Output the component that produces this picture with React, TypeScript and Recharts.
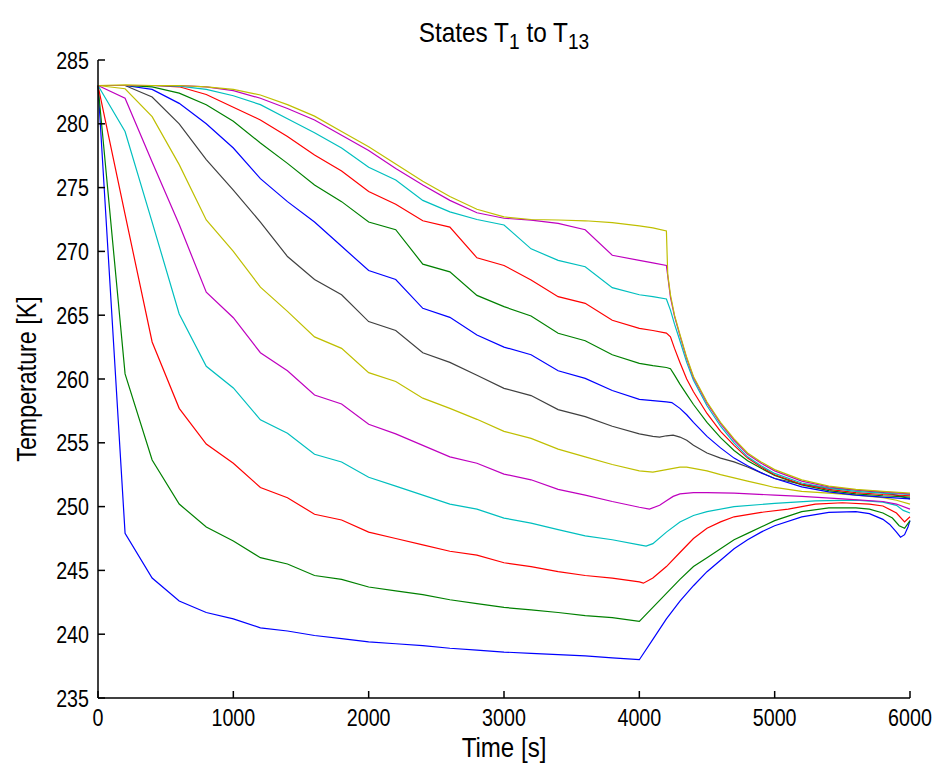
import React from 'react';
import { LineChart, Line, XAxis, YAxis } from 'recharts';

// Sample times (s) for the first phase, shared by every state
const HEAD_TIMES = [0, 200, 400, 600, 800, 1000, 1200, 1400, 1600, 1800, 2000, 2200, 2400, 2600, 2800, 3000, 3200, 3400, 3600, 3800, 4000];

// Temperatures (K) at HEAD_TIMES
const T1_HEAD = [283, 247.9, 244.4, 242.6, 241.7, 241.2, 240.5, 240.25, 239.9, 239.65, 239.4, 239.25, 239.1, 238.9, 238.75, 238.6, 238.5, 238.4, 238.3, 238.15, 238.0];
const T2_HEAD = [283, 260.4, 253.65, 250.2, 248.4, 247.3, 246.0, 245.5, 244.6, 244.3, 243.7, 243.4, 243.1, 242.7, 242.4, 242.1, 241.9, 241.7, 241.45, 241.3, 241.0];
const T3_HEAD = [283, 272.9, 262.9, 257.7, 254.9, 253.4, 251.5, 250.7, 249.4, 248.95, 248.0, 247.5, 247.0, 246.5, 246.2, 245.6, 245.3, 244.9, 244.6, 244.4, 244.1];
const T4_HEAD = [283, 279.4, 272.3, 265.1, 261.0, 259.3, 256.8, 255.75, 254.1, 253.5, 252.3, 251.6, 250.9, 250.2, 249.8, 249.1, 248.7, 248.2, 247.7, 247.4, 247.0];
const T5_HEAD = [283, 282.0, 277.0, 272.1, 266.8, 264.8, 262.06, 260.65, 258.75, 258.04, 256.45, 255.7, 254.8, 253.9, 253.4, 252.55, 252.1, 251.35, 250.9, 250.4, 249.95];
const T6_HEAD = [283, 282.75, 280.56, 276.8, 272.46, 270.0, 267.2, 265.3, 263.3, 262.4, 260.5, 259.8, 258.5, 257.7, 256.84, 255.9, 255.35, 254.5, 253.9, 253.3, 252.8];
const T7_HEAD = [283, 283.0, 282.1, 280.0, 277.2, 274.8, 272.3, 269.6, 267.8, 266.6, 264.5, 263.8, 262.06, 261.3, 260.3, 259.27, 258.7, 257.6, 257.05, 256.3, 255.7];
const T8_HEAD = [283, 283.0, 282.7, 281.6, 280.0, 278.1, 275.7, 273.9, 272.3, 270.4, 268.5, 267.8, 265.54, 264.83, 263.45, 262.5, 261.9, 260.65, 260.05, 259.1, 258.4];
const T9_HEAD = [283, 283.0, 282.9, 282.4, 281.5, 280.2, 278.5, 276.9, 275.2, 273.9, 272.3, 271.7, 269.0, 268.4, 266.55, 265.67, 264.94, 263.58, 263.0, 261.9, 261.23];
const T10_HEAD = [283, 283.0, 283.0, 282.9, 282.3, 281.3, 280.3, 279.0, 277.55, 276.3, 274.7, 273.7, 272.4, 271.9, 269.5, 268.9, 267.76, 266.45, 265.93, 264.6, 263.97];
const T11_HEAD = [283, 283.0, 283.0, 282.95, 282.7, 282.2, 281.5, 280.4, 279.3, 278.1, 276.6, 275.6, 274.0, 273.1, 272.5, 272.07, 270.2, 269.3, 268.8, 267.16, 266.6];
const T12_HEAD = [283, 283.0, 283.0, 283.0, 282.9, 282.6, 282.0, 281.2, 280.3, 279.1, 277.9, 276.5, 275.2, 274.0, 273.03, 272.6, 272.45, 272.2, 271.7, 269.7, 269.3];
const T13_HEAD = [283, 283.05, 283.0, 283.0, 282.9, 282.7, 282.26, 281.5, 280.6, 279.4, 278.2, 276.85, 275.5, 274.3, 273.3, 272.7, 272.5, 272.46, 272.4, 272.25, 272.0];

// Second phase: [time s, temperature K]
const T1_TAIL = [[4100, 239.6], [4200, 241.2], [4300, 242.6], [4400, 243.8], [4500, 244.9], [4600, 245.8], [4700, 246.7], [4800, 247.4], [4900, 248.0], [5000, 248.5], [5200, 249.2], [5400, 249.55], [5600, 249.6], [5700, 249.45], [5800, 249.0], [5850, 248.6], [5900, 248.0], [5930, 247.6], [5960, 247.8], [5985, 248.4], [6000, 248.9]];
const T2_TAIL = [[4100, 242.1], [4200, 243.2], [4300, 244.3], [4400, 245.3], [4500, 246.0], [4600, 246.7], [4700, 247.4], [4800, 247.9], [5000, 248.9], [5200, 249.6], [5400, 249.9], [5600, 249.9], [5700, 249.8], [5800, 249.5], [5870, 249.1], [5920, 248.5], [5960, 248.3], [6000, 248.9]];
const T3_TAIL = [[4030, 244.0], [4100, 244.4], [4200, 245.3], [4300, 246.4], [4400, 247.5], [4500, 248.3], [4600, 248.8], [4700, 249.2], [4900, 249.55], [5100, 249.8], [5300, 250.2], [5500, 250.3], [5700, 250.2], [5800, 250.05], [5900, 249.5], [5960, 248.8], [6000, 249.2]];
const T4_TAIL = [[4050, 246.9], [4100, 247.1], [4200, 248.0], [4300, 248.8], [4400, 249.3], [4500, 249.6], [4700, 250.0], [5000, 250.25], [5300, 250.45], [5600, 250.5], [5800, 250.35], [5900, 250.1], [5950, 249.7], [6000, 249.5]];
const T5_TAIL = [[4075, 249.8], [4150, 250.1], [4200, 250.45], [4250, 250.8], [4300, 251.0], [4400, 251.1], [4500, 251.1], [4700, 251.05], [5000, 250.9], [5200, 250.8], [5500, 250.6], [5800, 250.4], [5900, 250.2], [6000, 249.8]];
const T6_TAIL = [[4100, 252.7], [4200, 252.9], [4300, 253.1], [4350, 253.1], [4400, 253.0], [4500, 252.8], [4600, 252.5], [4700, 252.25], [4800, 252.0], [5000, 251.5], [5200, 251.2], [5400, 251.05], [5600, 250.9], [5800, 250.7], [5900, 250.5], [6000, 250.2]];
const T7_TAIL = [[4100, 255.5], [4150, 255.45], [4200, 255.55], [4250, 255.6], [4300, 255.45], [4350, 255.2], [4400, 254.8], [4500, 254.2], [4600, 253.8], [4700, 253.5], [4800, 253.1], [5000, 252.2], [5200, 251.75], [5400, 251.45], [5600, 251.3], [5800, 251.1], [5900, 250.9], [6000, 250.6]];
const T8_TAIL = [[4100, 258.3], [4200, 258.2], [4240, 258.15], [4300, 257.7], [4350, 257.2], [4400, 256.6], [4500, 255.5], [4600, 254.6], [4700, 253.8], [4800, 253.2], [4900, 252.65], [5000, 252.2], [5200, 251.55], [5400, 251.15], [5600, 250.9], [5800, 250.75], [6000, 250.6]];
const T9_TAIL = [[4100, 261.05], [4200, 260.9], [4230, 260.8], [4260, 260.3], [4300, 259.6], [4350, 258.8], [4400, 258.0], [4500, 256.6], [4600, 255.4], [4700, 254.4], [4800, 253.6], [4900, 253.0], [5000, 252.45], [5200, 251.7], [5400, 251.25], [5600, 251.0], [5800, 250.85], [6000, 250.75]];
const T10_TAIL = [[4100, 263.8], [4200, 263.6], [4230, 263.3], [4260, 262.4], [4300, 261.3], [4350, 260.0], [4400, 259.0], [4500, 257.3], [4600, 255.9], [4700, 254.8], [4800, 253.8], [4900, 253.1], [5000, 252.5], [5200, 251.75], [5400, 251.35], [5600, 251.1], [5800, 250.95], [6000, 250.85]];
const T11_TAIL = [[4100, 266.45], [4200, 266.27], [4230, 265.4], [4260, 264.3], [4300, 263.0], [4350, 261.3], [4400, 259.9], [4500, 257.9], [4600, 256.3], [4700, 255.0], [4800, 253.9], [4900, 253.2], [5000, 252.6], [5200, 251.85], [5400, 251.45], [5600, 251.2], [5800, 251.05], [6000, 250.95]];
const T12_TAIL = [[4100, 269.1], [4200, 268.9], [4230, 266.4], [4260, 264.9], [4300, 263.4], [4350, 261.6], [4400, 260.1], [4500, 258.1], [4600, 256.5], [4700, 255.2], [4800, 254.1], [4900, 253.4], [5000, 252.8], [5200, 252.0], [5400, 251.55], [5600, 251.3], [5800, 251.15], [6000, 251.0]];
const T13_TAIL = [[4100, 271.85], [4200, 271.6], [4210, 268.2], [4230, 266.6], [4260, 265.0], [4300, 263.5], [4350, 261.7], [4400, 260.2], [4500, 258.2], [4600, 256.6], [4700, 255.3], [4800, 254.2], [4900, 253.5], [5000, 252.9], [5200, 252.1], [5400, 251.6], [5600, 251.35], [5800, 251.2], [6000, 251.05]];

const SERIES_NAMES = ['T1', 'T2', 'T3', 'T4', 'T5', 'T6', 'T7', 'T8', 'T9', 'T10', 'T11', 'T12', 'T13'];
const SERIES_COLORS = ['#0000ff', '#008000', '#ff0000', '#00bfbf', '#bf00bf', '#bfbf00', '#404040', '#0000ff', '#008000', '#ff0000', '#00bfbf', '#bf00bf', '#bfbf00'];
const HEADS = [T1_HEAD, T2_HEAD, T3_HEAD, T4_HEAD, T5_HEAD, T6_HEAD, T7_HEAD, T8_HEAD, T9_HEAD, T10_HEAD, T11_HEAD, T12_HEAD, T13_HEAD];
const TAILS = [T1_TAIL, T2_TAIL, T3_TAIL, T4_TAIL, T5_TAIL, T6_TAIL, T7_TAIL, T8_TAIL, T9_TAIL, T10_TAIL, T11_TAIL, T12_TAIL, T13_TAIL];

const X_TICKS = [0, 1000, 2000, 3000, 4000, 5000, 6000];
const Y_TICKS = [235, 240, 245, 250, 255, 260, 265, 270, 275, 280, 285];

const FONT = '"Liberation Sans", Arial, Helvetica, sans-serif';
const NARROW = 0.82;

function buildSeries(head: number[], tail: number[][]) {
  const pts = HEAD_TIMES.map((t, i) => ({ t, v: head[i] }));
  tail.forEach(([t, v]) => pts.push({ t, v }));
  return pts;
}

const SERIES = SERIES_NAMES.map((name, i) => ({
  name,
  color: SERIES_COLORS[i],
  data: buildSeries(HEADS[i], TAILS[i]),
}));

const axisLine = { stroke: '#000', strokeWidth: 1.5 };
const tickLine = { stroke: '#000', strokeWidth: 1.5 };

function XTick(props: any) {
  const { x, y, payload } = props;
  return (
    <text
      transform={`translate(${x},${y}) scale(${NARROW},1)`}
      x={0}
      y={0}
      dy="0.71em"
      textAnchor="middle"
      fontSize={24}
      fontFamily={FONT}
      fill="#000"
    >
      {payload.value}
    </text>
  );
}

function YTick(props: any) {
  const { x, y, payload } = props;
  return (
    <text
      transform={`translate(${x},${y}) scale(${NARROW},1)`}
      x={0}
      y={0}
      dy="0.355em"
      textAnchor="end"
      fontSize={24}
      fontFamily={FONT}
      fill="#000"
    >
      {payload.value}
    </text>
  );
}

export default function App() {
  return (
    <div style={{ position: 'absolute', left: 0, top: 0, width: 939, height: 766, background: '#fff', fontFamily: FONT }}>
      <LineChart width={939} height={766} margin={{ top: 60, right: 29, left: 0, bottom: 0 }}>
        <XAxis
          xAxisId="b"
          dataKey="t"
          type="number"
          domain={[0, 6000]}
          ticks={X_TICKS}
          allowDuplicatedCategory={false}
          height={68}
          tickSize={-7}
          tickMargin={18}
          tick={(p: any) => <XTick {...p} />}
          axisLine={axisLine}
          tickLine={tickLine}
        />
        <XAxis
          xAxisId="t"
          orientation="top"
          dataKey="t"
          type="number"
          domain={[0, 6000]}
          ticks={X_TICKS}
          allowDuplicatedCategory={false}
          height={0}
          tickSize={-7}
          tick={false}
          axisLine={axisLine}
          tickLine={tickLine}
        />
        <YAxis
          yAxisId="l"
          type="number"
          domain={[235, 285]}
          ticks={Y_TICKS}
          width={98}
          tickSize={-7}
          tickMargin={16}
          tick={(p: any) => <YTick {...p} />}
          axisLine={axisLine}
          tickLine={tickLine}
        />
        <YAxis
          yAxisId="r"
          orientation="right"
          type="number"
          domain={[235, 285]}
          ticks={Y_TICKS}
          width={0}
          tickSize={-7}
          tick={false}
          axisLine={axisLine}
          tickLine={tickLine}
        />
        {SERIES.map((s) => (
          <Line
            key={s.name}
            xAxisId="b"
            yAxisId="l"
            data={s.data}
            dataKey="v"
            name={s.name}
            stroke={s.color}
            strokeWidth={1.2}
            dot={false}
            type="linear"
            isAnimationActive={false}
          />
        ))}
      </LineChart>
      <div style={{ position: 'absolute', left: 304, width: 400, top: 17, textAlign: 'center', fontSize: 28, color: '#000', lineHeight: '32px', whiteSpace: 'nowrap', transform: 'scaleX(0.87)' }}>
        States T<span style={{ fontSize: 22, position: 'relative', top: 7 }}>1</span> to T<span style={{ fontSize: 22, position: 'relative', top: 7 }}>13</span>
      </div>
      <div style={{ position: 'absolute', left: 304, width: 400, top: 732, textAlign: 'center', fontSize: 28, color: '#000', lineHeight: '32px', transform: 'scaleX(0.86)' }}>
        Time [s]
      </div>
      <div style={{ position: 'absolute', left: 27 - 150, top: 379 - 16, width: 300, height: 32, textAlign: 'center', fontSize: 28, color: '#000', lineHeight: '32px', transform: 'rotate(-90deg) scaleX(0.83)' }}>
        Temperature [K]
      </div>
    </div>
  );
}
